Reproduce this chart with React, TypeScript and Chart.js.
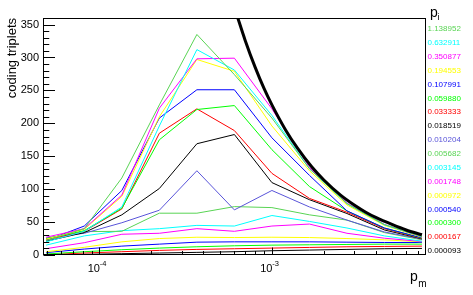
import { useEffect, useRef } from 'react';
import { Chart, registerables } from 'chart.js';

Chart.register(...registerables);

// mutation probability p_m (x categories)
const pm = [4.91e-5, 8.17e-5, 1.349e-4, 2.226e-4, 3.673e-4, 6.06e-4, 1.0e-3, 1.65e-3, 2.723e-3, 4.49e-3, 7.41e-3];

// legend labels p_i
const piLabels = [
  '1.138952', '0.632911', '0.350877', '0.194553', '0.107991', '0.059880', '0.033333', '0.018519',
  '0.010204', '0.005682', '0.003145', '0.001748', '0.000972', '0.000540', '0.000300', '0.000167', '0.000093',
];

const piColors = [
  '#59d454', '#00ffff', '#ff00ff', '#ffff00', '#0000ff', '#00ff00', '#ff0000', '#000000',
  '#5954d9', '#59d454', '#00ffff', '#ff00ff', '#ffff00', '#0000ff', '#00ff00', '#ff0000', '#000000',
];

// coding triplets per p_i
const s1_138952 = [22, 40, 117, 228, 335, 274, 208, 131, 78, 46, 28];
const s0_632911 = [20, 36, 73, 196, 312, 281, 212, 131, 78, 46, 28];
const s0_350877 = [27, 40, 91, 223, 298, 299, 222, 133, 79, 46.5, 27.5];
const s0_194553 = [24, 39, 89, 210, 297, 279, 196, 128, 76, 45, 27];
const s0_107991 = [22, 44, 98, 208, 251, 251, 178, 121, 67, 41, 26];
const s0_059880 = [25, 37, 71, 175, 221, 227, 160, 104, 67, 41, 25.5];
const s0_033333 = [23, 36, 70, 185, 222, 189, 124, 86, 65, 40, 25];
const s0_018519 = [21, 34, 61, 101, 169, 183, 110, 84, 63, 38, 24.5];
const s0_010204 = [26, 33, 49, 68, 128, 68.5, 98, 73, 53, 35, 24];
const s0_005682 = [24, 35.5, 36, 63.5, 63.5, 73.5, 72, 61, 53, 34, 23];
const s0_003145 = [15, 29, 37, 40, 45, 44, 60, 51, 41, 29, 21];
const s0_001748 = [9.6, 18.7, 31.5, 33, 40, 36, 44, 47, 33, 25.5, 20.5];
const s0_000972 = [5, 11.7, 20, 25, 27, 26.5, 27, 26.5, 25, 23, 20];
const s0_000540 = [3.6, 9, 13.5, 16.5, 19.5, 20, 20, 20, 19.5, 19, 19];
const s0_000300 = [1.5, 5, 8, 10.5, 12.5, 14, 15, 15.5, 16, 16.5, 16.5];
const s0_000167 = [0.5, 3, 5, 7, 8.5, 9.5, 10.5, 11.5, 12.5, 13, 13.5];
const s0_000093 = [0, 1, 2, 3, 4, 5, 6.5, 7.5, 8.5, 9.5, 10];

const seriesValues = [
  s1_138952, s0_632911, s0_350877, s0_194553, s0_107991, s0_059880, s0_033333, s0_018519,
  s0_010204, s0_005682, s0_003145, s0_001748, s0_000972, s0_000540, s0_000300, s0_000167, s0_000093,
];

// upper bound curve (thick black)
const boundPm = [6.2e-4, 7e-4, 8e-4, 9e-4, 1e-3, 1.2e-3, 1.4e-3, 1.7e-3, 2e-3, 2.5e-3, 3e-3, 3.5e-3, 4e-3, 5e-3, 6e-3, 7.41e-3];
const boundValues = [368, 326, 285, 253, 228, 190, 163, 134, 114, 91, 76, 65, 57, 46, 38, 30.8];

// axis tick labels
const xMajorTicks = [1e-4, 1e-3];
const xMajorExp = ['-4', '-3'];
const yTickStep = 50;

const FONT = '"Liberation Sans", Arial, sans-serif';

const decor = {
  id: 'decor',
  afterDraw(chart: any) {
    const { ctx, chartArea: a, scales } = chart;
    const x = scales.x;
    const y = scales.y;
    ctx.save();
    ctx.strokeStyle = '#000';
    ctx.lineWidth = 1;
    const L = Math.round(a.left) + 0.5;
    const R = Math.round(a.right) - 0.5;
    const T = Math.round(a.top) + 0.5;
    const B = Math.round(a.bottom) - 0.5;
    ctx.strokeRect(L, T, R - L, B - T);

    // y ticks inside
    for (let v = 0; v <= 360; v += 10) {
      const py = Math.round(y.getPixelForValue(v)) + 0.5;
      if (py < T - 0.1) continue;
      const len = v % 50 === 0 ? 11.5 : 5.75;
      ctx.beginPath();
      ctx.moveTo(L, py);
      ctx.lineTo(L + len, py);
      ctx.stroke();
    }
    // x ticks inside
    const xmin = x.min;
    const xmax = x.max;
    for (let e = -5; e <= -3; e++) {
      for (let m = 1; m <= 9; m++) {
        const v = m * Math.pow(10, e);
        if (v < xmin || v > xmax) continue;
        const px = Math.round(x.getPixelForValue(v)) + 0.5;
        const len = m === 1 ? 7 : 3.5;
        ctx.beginPath();
        ctx.moveTo(px, B);
        ctx.lineTo(px, B - len);
        ctx.stroke();
      }
    }

    // x tick labels 10^-4, 10^-3
    ctx.fillStyle = '#000';
    ctx.textBaseline = 'alphabetic';
    xMajorTicks.forEach((v, i) => {
      const px = x.getPixelForValue(v);
      ctx.font = `11px ${FONT}`;
      ctx.textAlign = 'right';
      ctx.fillText('10', px + 0.5, 272);
      ctx.font = `7.5px ${FONT}`;
      ctx.textAlign = 'left';
      ctx.fillText(xMajorExp[i], px + 0.3, 266);
    });

    // x title p_m
    ctx.textAlign = 'left';
    ctx.font = `14px ${FONT}`;
    ctx.fillText('p', 410, 280.5);
    ctx.font = `10px ${FONT}`;
    ctx.fillText('m', 418.3, 286.5);

    // legend title p_i
    ctx.font = `14px ${FONT}`;
    ctx.fillText('p', 430, 17.3);
    ctx.font = `9px ${FONT}`;
    ctx.fillText('i', 437.5, 19.5);

    // legend entries
    ctx.font = `8px ${FONT}`;
    ctx.textBaseline = 'middle';
    piLabels.forEach((t, i) => {
      ctx.fillStyle = piColors[i];
      ctx.fillText(t, a.right + 1.5, a.top + 11 + i * 13.875);
    });
    ctx.restore();
  },
};

export default function App() {
  const ref = useRef<HTMLCanvasElement>(null);
  useEffect(() => {
    document.body.style.margin = '0';
    const datasets: any[] = [
      {
        label: 'bound',
        data: boundPm.map((p, i) => ({ x: p, y: boundValues[i] })),
        borderColor: '#000',
        borderWidth: 3,
        pointRadius: 0,
        cubicInterpolationMode: 'monotone',
        clip: 0,
      },
      ...seriesValues.map((vals, k) => ({
        label: piLabels[k],
        data: pm.map((p, i) => ({ x: p, y: vals[i] })),
        borderColor: piColors[k],
        borderWidth: 1,
        pointRadius: 0,
        tension: 0,
        clip: 0,
      })),
    ];
    const chart = new Chart(ref.current!, {
      type: 'line',
      data: { datasets },
      options: {
        animation: false,
        responsive: false,
        devicePixelRatio: 1,
        layout: { padding: { left: 0, right: 47, top: 18, bottom: 0 } },
        plugins: { legend: { display: false }, tooltip: { enabled: false } },
        scales: {
          x: {
            type: 'logarithmic',
            min: 4.71e-5,
            max: 7.82e-3,
            grid: { display: false },
            border: { display: false },
            ticks: { display: false },
            afterFit: (s: any) => {
              s.height = 40;
            },
          },
          y: {
            type: 'linear',
            min: 0,
            max: 360,
            grid: { display: false, drawTicks: false },
            border: { display: false },
            ticks: {
              stepSize: yTickStep,
              includeBounds: false,
              autoSkip: false,
              padding: 4,
              color: '#000',
              font: { family: FONT, size: 11 },
              callback: (v: any) => (Number(v) % yTickStep === 0 ? String(v) : ''),
            },
            title: {
              display: true,
              text: 'coding triplets',
              align: 'end',
              color: '#000',
              font: { family: FONT, size: 13 },
              padding: { top: 4.5, bottom: 0 },
            },
            afterFit: (s: any) => {
              s.width = 43;
            },
          },
        },
      },
      plugins: [decor],
    } as any);
    return () => chart.destroy();
  }, []);
  return (
    <div style={{ width: 473, height: 295 }}>
      <canvas ref={ref} width={473} height={295} style={{ display: 'block' }} />
    </div>
  );
}
